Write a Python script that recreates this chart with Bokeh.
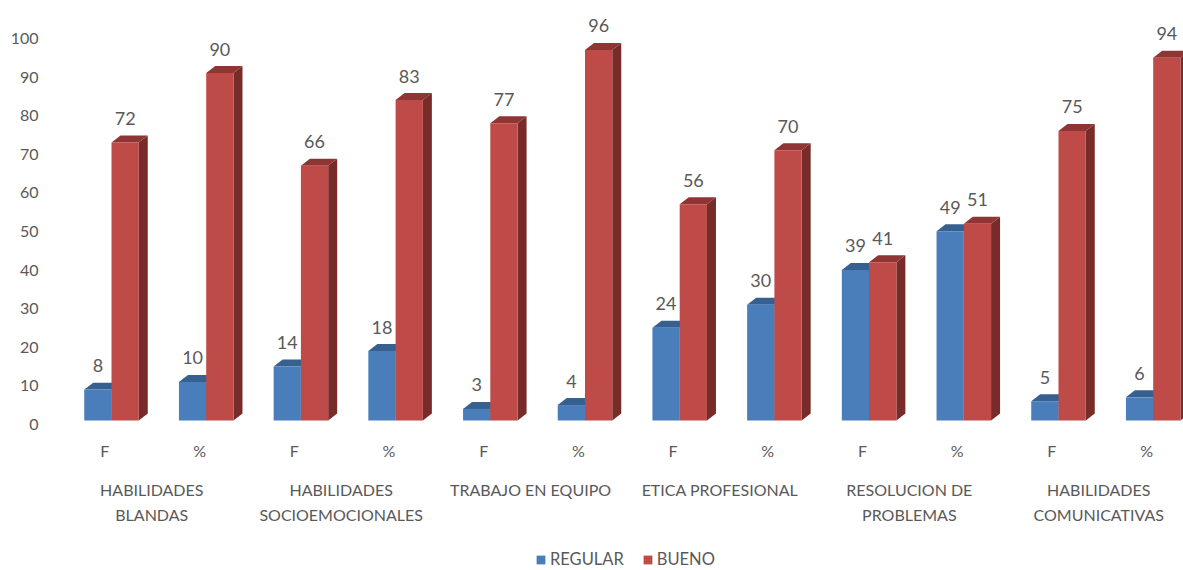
from bokeh.plotting import figure
from bokeh.embed import file_html
from bokeh.resources import INLINE
from bokeh.models import (ColumnDataSource, Range1d, LinearAxis, FixedTicker,
                          Legend, LegendItem)
from bokeh.core.properties import value

# ---- data ----
groups = [["HABILIDADES", "BLANDAS"], ["HABILIDADES", "SOCIOEMOCIONALES"], ["TRABAJO EN EQUIPO", ""],
          ["ETICA PROFESIONAL", ""], ["RESOLUCION DE", "PROBLEMAS"], ["HABILIDADES", "COMUNICATIVAS"]]
measures = ["F", "%", "F", "%", "F", "%", "F", "%", "F", "%", "F", "%"]
regular = [8, 10, 14, 18, 3, 4, 24, 30, 39, 49, 5, 6]
bueno = [72, 90, 66, 83, 77, 96, 56, 70, 41, 51, 75, 94]
y_ticks = [0, 10, 20, 30, 40, 50, 60, 70, 80, 90, 100]

# ---- styling ----
FONT = "Lato"
TEXT = "#595959"
BLUE, BLUE_TOP, BLUE_SIDE = "#4a7ebb", "#35608f", "#2c5078"
RED, RED_TOP, RED_SIDE = "#be4b48", "#8f3533", "#772c2a"
BAR_W = 0.288      # bar width, in category steps
DX, DY = 0.095, 1.81   # oblique depth of the 3D bars
BASE = 1.04        # the front floor sits above the axis zero
LABEL_SHIFT = 0.07     # category labels sit slightly left of the bar pair centres

idx = list(range(len(measures)))


def faces(x_left, vals):
    tops = [v + BASE for v in vals]
    x0 = [x + x_left for x in idx]
    x1 = [x + BAR_W for x in x0]
    side = dict(
        xs=[[a, a + DX, a + DX, a] for a in x1],
        ys=[[BASE, BASE + DY, t + DY, t] for t in tops],
    )
    top = dict(
        xs=[[a, b, b + DX, a + DX] for a, b in zip(x0, x1)],
        ys=[[t, t, t + DY, t + DY] for t in tops],
    )
    front = dict(x=[x + BAR_W / 2 for x in x0], top=tops, val=[str(v) for v in vals])
    return side, top, front


# the frame runs to the bottom of the page, so labels and legend can live inside it
p = figure(width=1183, height=570,
           output_backend="svg", toolbar_location=None,
           x_range=Range1d(-0.697, 11.32), y_range=Range1d(-37.82, 107.77),
           x_axis_location=None, y_axis_location=None,
           min_border_left=45, min_border_right=0, min_border_top=8, min_border_bottom=0,
           background_fill_color="white", border_fill_color="white", outline_line_color=None)
p.grid.visible = False

legend_items = []
for x_left, vals, cols, name in [(-BAR_W, regular, (BLUE, BLUE_TOP, BLUE_SIDE), "REGULAR"),
                                 (0.0, bueno, (RED, RED_TOP, RED_SIDE), "BUENO")]:
    side, top, front = faces(x_left, vals)
    p.patches("xs", "ys", source=ColumnDataSource(side), fill_color=cols[2], line_color=None)
    p.patches("xs", "ys", source=ColumnDataSource(top), fill_color=cols[1], line_color=None)
    src = ColumnDataSource(front)
    r = p.vbar(x="x", top="top", bottom=BASE, width=BAR_W, source=src,
               fill_color=cols[0], line_color=None)
    p.text(x="x", y="top", text="val", source=src, text_align="center", text_baseline="middle",
           y_offset=-24, text_font=value(FONT), text_font_size="18px", text_color=TEXT)
    legend_items.append(LegendItem(label=name, renderers=[r]))


# y axis
ya = LinearAxis(ticker=FixedTicker(ticks=y_ticks), major_label_standoff=1)
ya.axis_line_color = None
ya.major_tick_line_color = None
ya.minor_tick_line_color = None
ya.major_label_text_font = FONT
ya.major_label_text_font_size = "16px"
ya.major_label_text_color = TEXT
p.add_layout(ya, "left")


def label_row(xs, texts, offset):
    p.text(x=xs, y=[0] * len(xs), text=texts, y_offset=offset, text_align="center",
           text_baseline="middle", text_font=value(FONT), text_font_size="16px", text_color=TEXT)


label_row([i - LABEL_SHIFT for i in idx], measures, 26)
g_x = [2 * i + 0.495 - LABEL_SHIFT for i in range(len(groups))]
label_row(g_x, [g[0] for g in groups], 65)
label_row(g_x, [g[1] for g in groups], 90)

legend = Legend(items=legend_items, orientation="horizontal", location=(490, 1),
                border_line_color=None, background_fill_alpha=0, margin=0, padding=0,
                spacing=18, glyph_width=11, glyph_height=11, label_standoff=4,
                label_text_font=FONT, label_text_font_size="16.5px", label_text_color=TEXT)
p.add_layout(legend, "center")

open("out.html", "w").write(file_html(p, INLINE))
